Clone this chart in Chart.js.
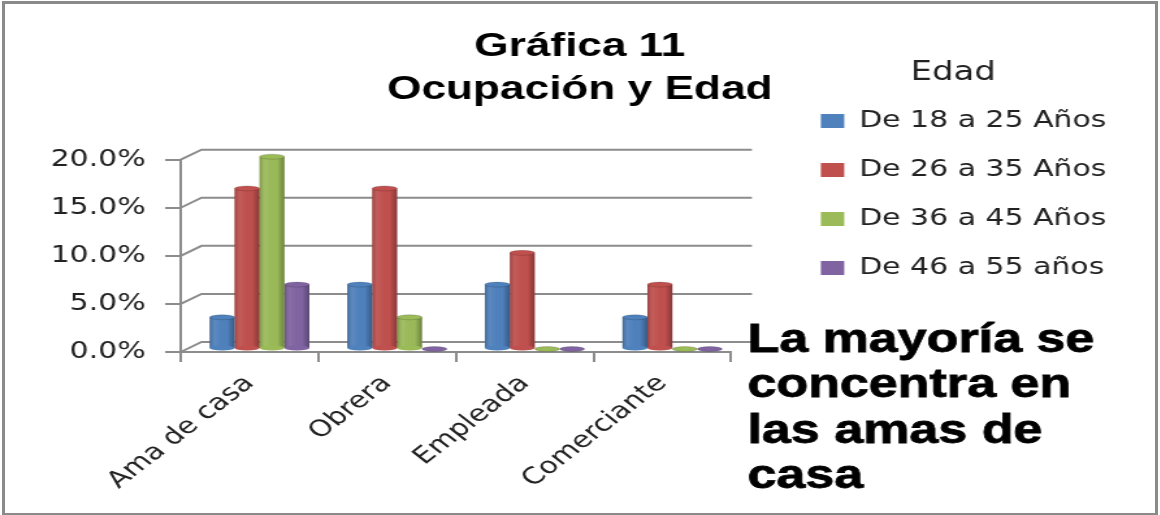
<!DOCTYPE html>
<html lang="es">
<head>
<meta charset="utf-8">
<title>Gráfica 11</title>
<script src="https://cdn.jsdelivr.net/npm/chart.js@4"></script>
<style>
    html, body { margin: 0; padding: 0; background: #fff; overflow: hidden; }
    #marco { position: absolute; left: 0; top: 0; width: 1160px; height: 515px; overflow: hidden; }
    #marco:after { content: ""; position: absolute; left: 2px; top: 1px; width: 1150px; height: 509px; border: 3px solid #8a8a8a; }
    /* la imagen original esta estirada a lo ancho */
    #grafica { position: absolute; left: 0; top: 0; transform: scaleX(1.3); transform-origin: 0 0; }
</style>
</head>
<body>
<div id="marco"><canvas id="grafica" width="892" height="515"></canvas></div>
<script>
const titulo = ["Gráfica 11", "Ocupación y Edad"];
const tituloLeyenda = "Edad";
const ocupaciones = ["Ama de casa", "Obrera", "Empleada", "Comerciante"];
const edad18a25 = [3.3, 6.7, 6.7, 3.3];
const edad26a35 = [16.7, 16.7, 10, 6.7];
const edad36a45 = [20, 3.3, 0, 0];
const edad46a55 = [6.7, 0, 0, 0];
const nota = ["La mayoría se", "concentra en", "las amas de", "casa"];

const GRIS = "#8c8c8c";
const TEXTO = "#222222";

// pared del fondo y cilindros, todo sacado de las escalas
const efecto3d = {
    id: "efecto3d",
    beforeDatasetsDraw(chart) {
        const { ctx, scales: { x, y } } = chart;
        const fx = 16, fy = -10;
        ctx.save();
        ctx.strokeStyle = GRIS;
        ctx.lineWidth = 2;
        y.ticks.forEach(t => {
            const py = y.getPixelForValue(t.value);
            ctx.beginPath();
            ctx.moveTo(x.left, py);
            ctx.lineTo(x.left + fx, py + fy);
            ctx.lineTo(x.right + fx, py + fy);
            ctx.stroke();
        });
        ctx.restore();
        ctx.save();
        ctx.translate(7.7, -3);
    },
    afterDatasetDraw(chart, args) {
        const ctx = chart.ctx;
        const color = chart.data.datasets[args.index].backgroundColor;
        args.meta.data.forEach(barra => {
            const izq = barra.x - barra.width / 2;
            const der = barra.x + barra.width / 2;
            const rx = barra.width / 2;
            const alto = barra.base - barra.y;
            if (alto > 0.5) {
                const g = ctx.createLinearGradient(izq, 0, der, 0);
                g.addColorStop(0, "rgba(0,0,0,0.22)");
                g.addColorStop(0.25, "rgba(255,255,255,0.06)");
                g.addColorStop(0.7, "rgba(0,0,0,0)");
                g.addColorStop(1, "rgba(0,0,0,0.3)");
                ctx.fillStyle = g;
                ctx.fillRect(izq, barra.y, barra.width, alto);
                ctx.fillStyle = color;
                ctx.beginPath();
                ctx.ellipse(barra.x, barra.base, rx, 2.5, 0, 0, Math.PI * 2);
                ctx.fill();
            }
            ctx.fillStyle = color;
            ctx.beginPath();
            ctx.ellipse(barra.x, barra.y, rx, 2.5, 0, 0, Math.PI * 2);
            ctx.fill();
            ctx.strokeStyle = "rgba(0,0,0,0.15)";
            ctx.lineWidth = 1;
            ctx.stroke();
        });
    },
    afterDatasetsDraw(chart) {
        chart.ctx.restore();
    },
    afterDraw(chart) {
        const ctx = chart.ctx;
        ctx.save();
        ctx.fillStyle = "#000";
        ctx.strokeStyle = "#000";
        ctx.lineWidth = 0.8;
        ctx.font = "bold 40px 'Liberation Sans'";
        ctx.textBaseline = "middle";
        nota.forEach((linea, i) => {
            ctx.fillText(linea, 575, 341 + i * 45.3);
            ctx.strokeText(linea, 575, 341 + i * 45.3);
        });
        ctx.restore();
    }
};

new Chart(document.getElementById("grafica"), {
    type: "bar",
    data: {
        labels: ocupaciones,
        datasets: [
            { label: "De 18 a 25 Años", data: edad18a25, backgroundColor: "#4F81BD", clip: false },
            { label: "De 26 a 35 Años", data: edad26a35, backgroundColor: "#C0504D", clip: false },
            { label: "De 36 a 45 Años", data: edad36a45, backgroundColor: "#9BBB59", clip: false },
            { label: "De 46 a 55 años", data: edad46a55, backgroundColor: "#8064A2", clip: false }
        ]
    },
    options: {
        responsive: false,
        animation: false,
        devicePixelRatio: 1,
        layout: { padding: { left: 31, right: 31 } },
        datasets: { bar: { categoryPercentage: 0.725, barPercentage: 1 } },
        font: { family: "'DejaVu Sans'" },
        plugins: {
            tooltip: { enabled: false },
            title: {
                display: true,
                text: titulo,
                color: "#000",
                font: { family: "'Liberation Sans'", size: 34, weight: "bold", lineHeight: 1.26 },
                padding: { top: 25.5, bottom: 48.5 }
            },
            legend: {
                position: "right",
                align: "start",
                fullSize: true,
                maxWidth: 285,
                title: {
                    display: true,
                    text: tituloLeyenda,
                    color: TEXTO,
                    font: { family: "'DejaVu Sans'", size: 26 },
                    padding: { top: 60, bottom: -7.6 }
                },
                labels: {
                    color: TEXTO,
                    font: { family: "'DejaVu Sans'", size: 23 },
                    boxWidth: 18,
                    boxHeight: 14,
                    padding: 26
                }
            }
        },
        scales: {
            x: {
                afterFit: s => { s.height = 163; },
                grid: { drawOnChartArea: false, drawTicks: true, tickLength: 10, color: GRIS, lineWidth: 2 },
                border: { color: GRIS, width: 2 },
                ticks: {
                    color: TEXTO,
                    font: { family: "'DejaVu Sans'", size: 23 },
                    minRotation: 45,
                    maxRotation: 45,
                    padding: 8
                }
            },
            y: {
                min: 0,
                max: 20,
                afterFit: s => { s.width = 108; },
                grid: { drawOnChartArea: false, drawTicks: true, tickLength: 12, color: GRIS, lineWidth: 2 },
                border: { color: GRIS, width: 2 },
                ticks: {
                    stepSize: 5,
                    color: TEXTO,
                    font: { family: "'DejaVu Sans'", size: 23 },
                    padding: 15,
                    callback: v => v.toFixed(1) + "%"
                }
            },
            // solo guarda el hueco entre las columnas y la leyenda
            hueco: {
                axis: "y",
                position: "right",
                min: 0,
                max: 1,
                afterFit: s => { s.width = 43; },
                grid: { display: false },
                border: { display: false },
                ticks: { display: false }
            }
        }
    },
    plugins: [efecto3d]
});
</script>
</body>
</html>
